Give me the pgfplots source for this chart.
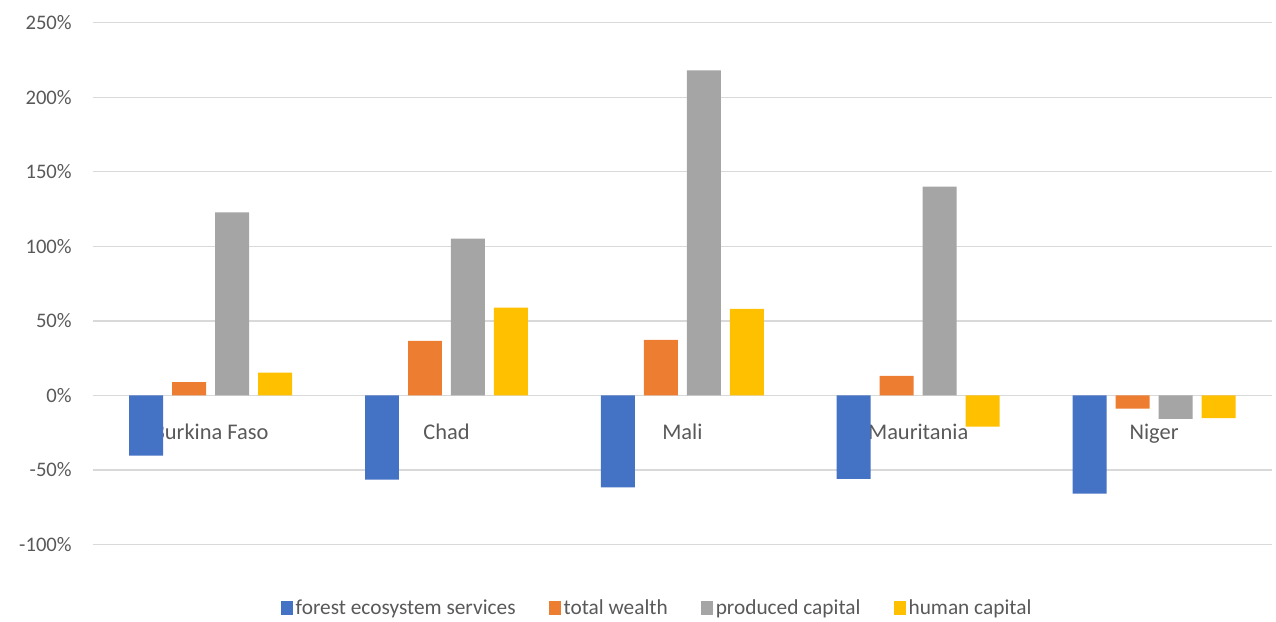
\documentclass[border=0pt]{standalone}
\usepackage{fontspec}
\setmainfont{Carlito}
\usepackage{pgfplots}
\pgfplotsset{compat=1.18}
\definecolor{cBlue}{HTML}{4472C4}
\definecolor{cOrange}{HTML}{ED7D31}
\definecolor{cGray}{HTML}{A5A5A5}
\definecolor{cGold}{HTML}{FFC000}
\definecolor{cGrid}{HTML}{D9D9D9}
\definecolor{cText}{HTML}{595959}
\pgfplotsset{
  layers/mylayers/.define layer set={axis background,axis grid,axis ticks,axis lines,main,axis tick labels,axis descriptions,axis foreground}{},
  mybar/.style={ybar, bar width=0.144, draw=none,
    legend image code/.code={\fill[##1,draw=none] (0pt,-5pt) rectangle (9pt,5pt);}},
}
\begin{document}
\begin{tikzpicture}
\begin{axis}[
  set layers=mylayers,
  at={(69.5pt,57.5pt)}, anchor=south west,
  scale only axis, width=884.5pt, height=391.2pt,
  xmin=-0.5, xmax=4.5, ymin=-100, ymax=250,
  axis x line*=middle, axis y line*=left,
  x axis line style={draw=cGrid, line width=1.1pt},
  y axis line style={draw=none},
  ytick={-100,-50,0,50,100,150,200,250},
  ymajorgrids, grid style={draw=cGrid, line width=1.1pt},
  major tick length=0pt,
  xtick={0,1,2,3,4},
  xticklabels={Burkina Faso,Chad,Mali,Mauritania,Niger},
  xticklabel style={anchor=base, yshift=-33pt, text=cText, font=\fontsize{16.8}{19}\selectfont},
  yticklabel={\pgfmathprintnumber{\tick}\%},
  yticklabel style={anchor=east, inner sep=0pt, xshift=-15.5pt, text=cText, font=\fontsize{15.5}{18}\selectfont},
  /pgf/number format/assume math mode=true,
  legend columns=4,
  legend style={draw=none, at={(0.479,-0.122)}, anchor=center,
    font=\fontsize{16}{19}\selectfont, text=cText,
    nodes={inner xsep=2pt},
    /tikz/every even column/.append style={column sep=23pt}},
]
\addplot[mybar, fill=cBlue, bar shift=-0.2734] coordinates {(0,-40.5) (1,-56.5) (2,-61.8) (3,-56) (4,-66)};
\addplot[mybar, fill=cOrange, bar shift=-0.0911] coordinates {(0,8.8) (1,36.5) (2,37.2) (3,13) (4,-9)};
\addplot[mybar, fill=cGray, bar shift=0.0911] coordinates {(0,122.8) (1,105.2) (2,218) (3,140) (4,-15.8)};
\addplot[mybar, fill=cGold, bar shift=0.2734] coordinates {(0,15.2) (1,58.8) (2,58) (3,-21) (4,-15.3)};
\legend{forest ecosystem services, total wealth, produced capital, human capital}
\end{axis}
\path (0pt,0pt) rectangle (957pt,465.75pt);
\end{tikzpicture}
\end{document}
